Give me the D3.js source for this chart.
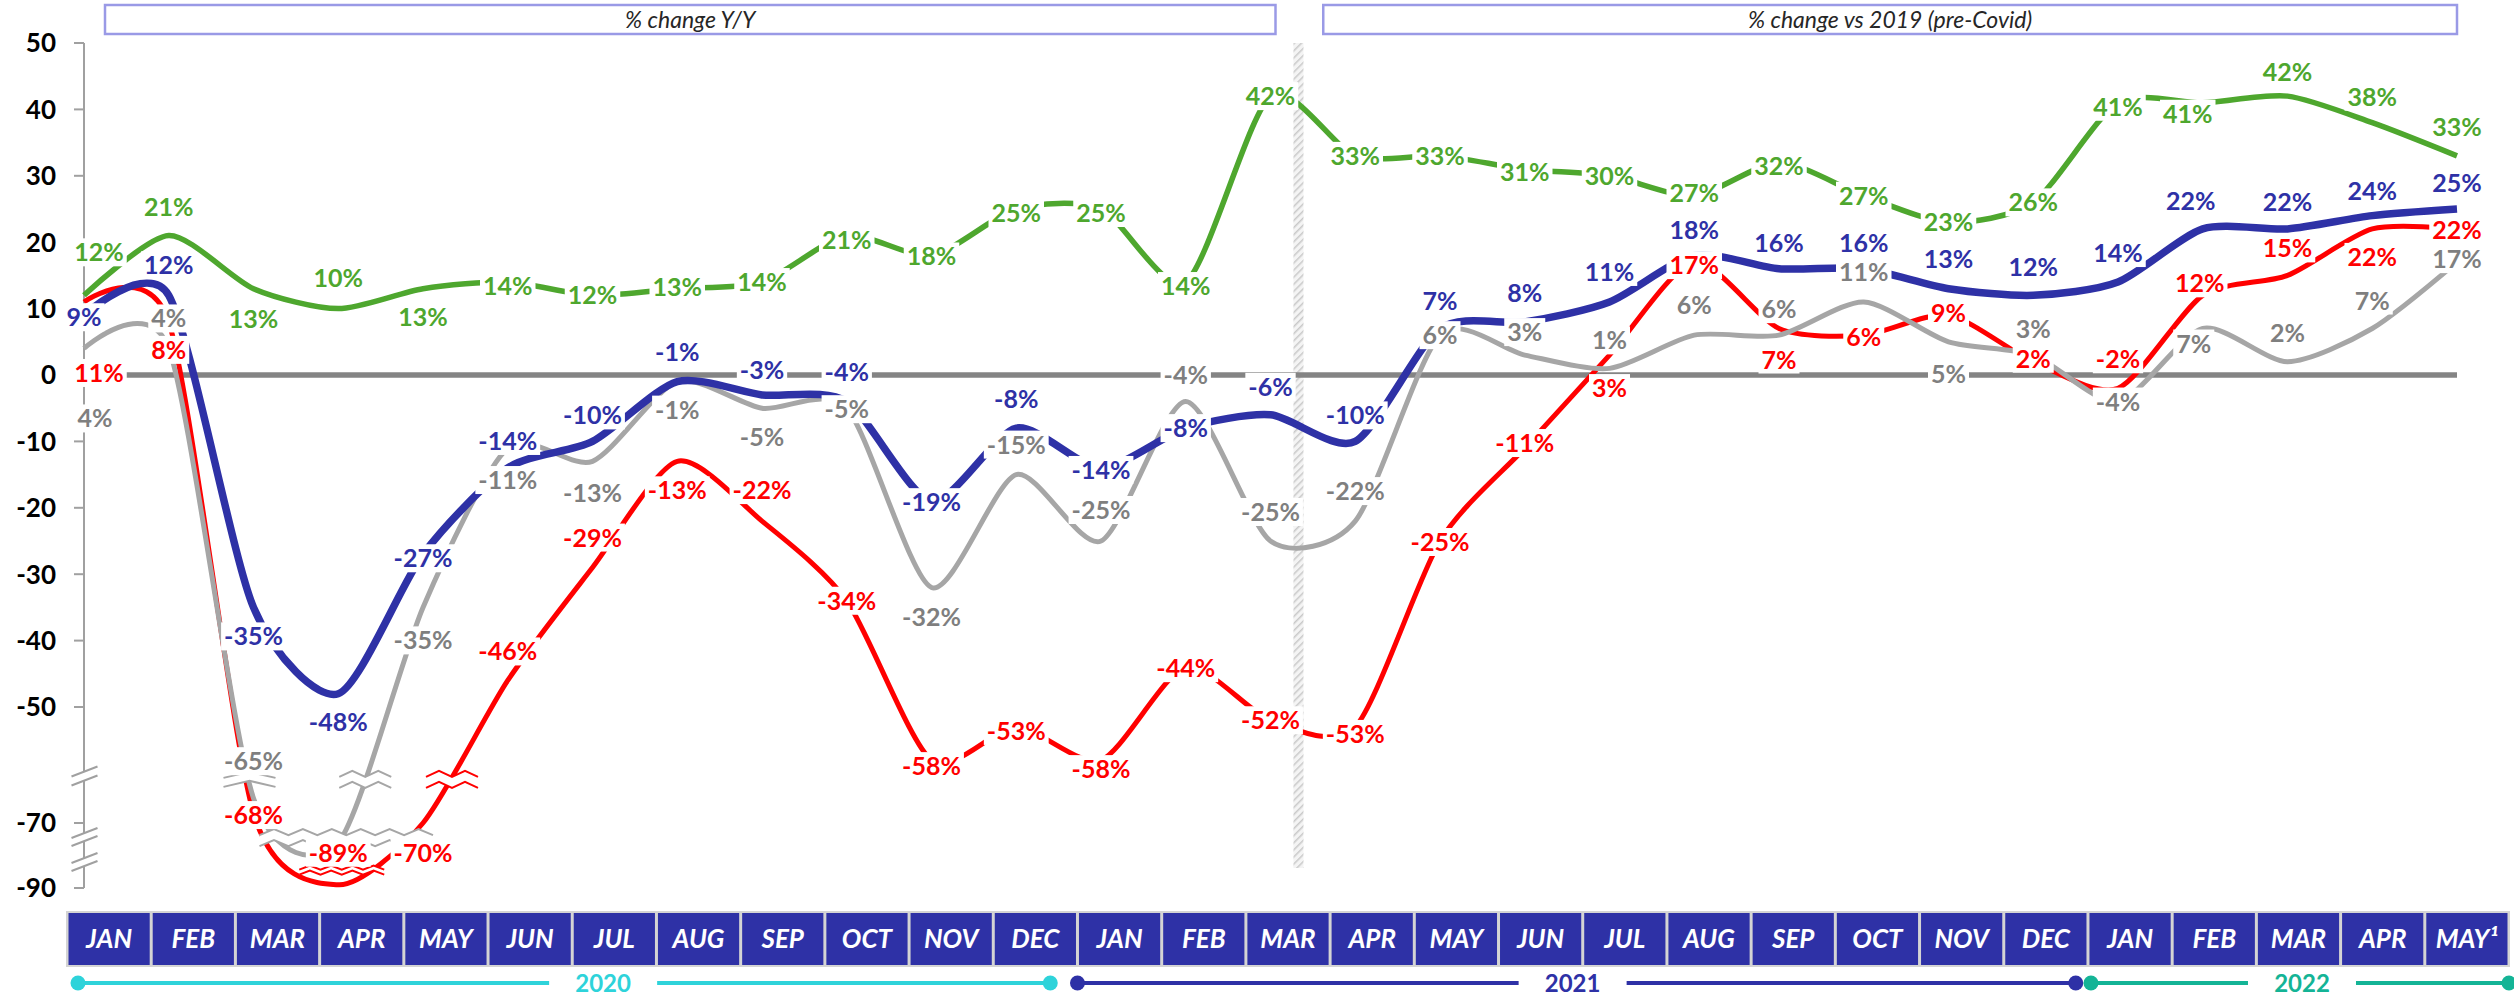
<!DOCTYPE html>
<html><head><meta charset="utf-8">
<script src="https://cdn.jsdelivr.net/npm/d3@7"></script>
<style>body{margin:0;background:#fff;} svg{display:block;}</style>
</head><body><svg id="chart" width="2514" height="999"></svg>
<script>
// ---------------- DATA ----------------
const months = ["JAN","FEB","MAR","APR","MAY","JUN","JUL","AUG","SEP","OCT","NOV","DEC",
                "JAN","FEB","MAR","APR","MAY","JUN","JUL","AUG","SEP","OCT","NOV","DEC",
                "JAN","FEB","MAR","APR","MAY¹"];
const years = ["2020","2021","2022"];
const yearSpans = [[0,11],[12,23],[24,28]];
const yTicks = [50,40,30,20,10,0,-10,-20,-30,-40,-50,-70,-90];
const panelTitles = ["% change Y/Y","% change vs 2019 (pre-Covid)"];

const green = [12,21,13,10,13,14,12,13,14,21,18,25,25,14,42,33,33,31,30,27,32,27,23,26,41,41,42,38,33];
const blue  = [9,12,-35,-48,-27,-14,-10,-1,-3,-4,-19,-8,-14,-8,-6,-10,7,8,11,18,16,16,13,12,14,22,22,24,25];
const red   = [11,8,-68,-89,-70,-46,-29,-13,-22,-34,-58,-53,-58,-44,-52,-53,-25,-11,3,17,7,6,9,2,-2,12,15,22,22];
const gray  = [4,4,-65,-76,-35,-11,-13,-1,-5,-5,-32,-15,-25,-4,-25,-22,6,3,1,6,6,11,5,3,-4,7,2,7,17];

// ---------------- LAYOUT (label placement, px offsets) ----------------
const greenLabelDy = [-43,-29,30,-31,28,4,0,-2,0,4,1,4,4,4,0,0,0,3,0,-3,3,0,0,0,4,11,-24,-26,-29];
const blueLabelDy  = [2,-30,29,28,4,-27,-26,-30,-25,-30,1,-29,2,0,-28,-26,-28,-29,-30,-25,-26,-26,-30,-28,-29,-28,-27,-25,-26];
const redLabelDy   = [71,28,2,-32,30,-29,-30,29,-31,0,6,4,9,1,0,7,1,-5,33,3,31,2,-2,-3,-29,-12,-27,28,1];
const grayLabelDy  = [70,-30,-37,null,33,32,32,28,29,1,30,-30,-31,-27,-29,-30,0,-23,-28,-30,-26,-30,32,-26,0,15,-29,-28,-3];
const labelDx = {green:{0:15,25:-15}, blue:{25:-12}, red:{0:15,25:-3}, gray:{0:11,25:-9}};

// ---------------- CHART ----------------
const svg = d3.select("#chart");
const FONT = "Lato, 'Open Sans', 'Liberation Sans', sans-serif";
const C = {green:"#4EA72E", blue:"#2E31A6", red:"#FF0000", grayLine:"#A6A6A6", grayText:"#7F7F7F",
           zero:"#848484", axis:"#A0A0A0", y2020:"#2ED3DA", y2021:"#2E31A6", y2022:"#14B496"};

const x = d3.scalePoint().domain(d3.range(months.length)).range([84, 2457]);
const y = d3.scaleLinear().domain([-90,-70,-60,50]).range([888,823,773.4,43]);
const xb = d3.scaleBand().domain(d3.range(months.length)).range([67, 2509]);

const defs = svg.append("defs");
const pat = defs.append("pattern").attr("id","hatch").attr("width",5).attr("height",5)
  .attr("patternUnits","userSpaceOnUse").attr("patternTransform","rotate(45)");
pat.append("rect").attr("width",5).attr("height",5).attr("fill","#f4f4f4");
pat.append("line").attr("x1",0).attr("y1",0).attr("x2",0).attr("y2",5).attr("stroke","#c9c9c9").attr("stroke-width",3);

// panel title boxes
const titleBoxes = [[x(0)+21, x(14)+5],[x(15)-32, x(28)]];
titleBoxes.forEach((b,i)=>{
  svg.append("rect").attr("x",b[0]).attr("y",5).attr("width",b[1]-b[0]).attr("height",29)
    .attr("fill","#fff").attr("stroke","#9A9AE6").attr("stroke-width",2.5);
  svg.append("text").attr("x",(b[0]+b[1])/2).attr("y",20).attr("dy","0.36em").attr("text-anchor","middle")
    .attr("font-family",FONT).attr("font-style","italic").attr("font-size",23).attr("fill","#262626")
    .text(panelTitles[i]);
});

// separator (hatched band)
const sepX = x(14) + (x(15)-x(14))*0.33;
svg.append("rect").attr("x",sepX-5).attr("y",y(50)).attr("width",10).attr("height",868-y(50))
  .attr("fill","url(#hatch)");

// y axis
const ax = svg.append("g");
ax.append("line").attr("x1",84).attr("x2",84).attr("y1",y(50)).attr("y2",y(-90))
  .attr("stroke",C.axis).attr("stroke-width",2);
yTicks.forEach(t=>{
  ax.append("line").attr("x1",74).attr("x2",84).attr("y1",y(t)).attr("y2",y(t))
    .attr("stroke",C.axis).attr("stroke-width",2);
  ax.append("text").attr("x",56).attr("y",y(t)).attr("dy","0.36em").attr("text-anchor","end")
    .attr("font-family",FONT).attr("font-weight","bold").attr("font-size",26).attr("fill","#000")
    .text(t);
});

// zero line
svg.append("line").attr("x1",84).attr("x2",x(28)).attr("y1",y(0)).attr("y2",y(0))
  .attr("stroke",C.zero).attr("stroke-width",5.5);

// series lines (Excel-like smoothed lines)
const line = d3.line().x((d,i)=>x(i)).y(d=>y(d)).curve(d3.curveCardinal.tension(0.25));
const seriesDefs = [
  {key:"red", data:red, color:C.red, text:C.red, width:5, dy:redLabelDy},
  {key:"gray", data:gray, color:C.grayLine, text:C.grayText, width:5, dy:grayLabelDy},
  {key:"blue", data:blue, color:C.blue, text:C.blue, width:7.5, dy:blueLabelDy},
  {key:"green", data:green, color:C.green, text:C.green, width:5.5, dy:greenLabelDy}
];
seriesDefs.forEach(s=>{
  svg.append("path").datum(s.data).attr("d",line).attr("fill","none")
    .attr("stroke",s.color).attr("stroke-width",s.width).attr("stroke-linecap","butt");
});

// axis-break marks
const brk = svg.append("g");
function slantPair(cx, cy, gap){
  const p = [[cx-13,cy+5],[cx+13,cy-5]];
  brk.append("path").attr("d",`M${p[0][0]},${p[0][1]-gap/2}L${p[1][0]},${p[1][1]-gap/2}L${p[1][0]},${p[1][1]+gap/2}L${p[0][0]},${p[0][1]+gap/2}Z`)
    .attr("fill","#fff");
  [-gap/2, gap/2].forEach(o=>brk.append("line").attr("x1",p[0][0]).attr("y1",p[0][1]+o)
    .attr("x2",p[1][0]).attr("y2",p[1][1]+o).attr("stroke",C.axis).attr("stroke-width",2));
}
slantPair(84.5, 776, 9); slantPair(84.5, 837, 8); slantPair(84.5, 862, 8);
function zigPair(x1, x2, cy, teeth, amp, gap, color){
  const pts = d3.range(teeth*2+1).map(k=>[x1+(x2-x1)*k/(teeth*2), cy+(k%2? -amp: amp)]);
  const top = pts.map(p=>[p[0],p[1]-gap/2]), bot = pts.map(p=>[p[0],p[1]+gap/2]);
  brk.append("path").attr("d", d3.line()(top.concat(bot.slice().reverse()))+"Z").attr("fill","#fff");
  [top,bot].forEach(ps=>brk.append("path").attr("d",d3.line()(ps)).attr("fill","none")
    .attr("stroke",color).attr("stroke-width",2));
}
zigPair(x(2)-30, x(2)+22, y(-61.2), 1, 3, 9, C.grayLine);
zigPair(x(3)+1, x(3)+53, y(-61.2), 2, 3, 11, C.grayLine);
zigPair(x(4)+3, x(4)+55, y(-61.2), 2, 3, 11, C.red);
zigPair(x(2)+6, x(4)+10, y(-74.5), 6, 3, 11, C.grayLine);
zigPair(x(3)-39, x(3)+46, y(-84.5), 4, 2, 5, C.red);

// data labels with white backgrounds
const bgG = svg.append("g"), txG = svg.append("g");
seriesDefs.forEach(s=>{
  s.data.forEach((v,i)=>{
    const dy = s.dy[i];
    if (dy === null || dy === undefined) return;
    const dx = labelDx[s.key][i] || 0;
    const cx = x(i)+dx, cy = y(v)+dy;
    const t = txG.append("text").attr("x",cx).attr("y",cy).attr("dy","0.36em")
      .attr("text-anchor","middle").attr("font-family",FONT).attr("font-weight","bold")
      .attr("font-size",25).attr("fill",s.text).text(v+"%");
    const bb = t.node().getBBox();
    bgG.append("rect").attr("x",bb.x-3).attr("y",cy-14).attr("width",bb.width+6).attr("height",28)
      .attr("fill","#fff");
  });
});

// month boxes
const mb = svg.append("g");
mb.append("rect").attr("x",66).attr("y",911).attr("width",2510-66).attr("height",56).attr("fill","#D4D4D4");
months.forEach((m,i)=>{
  mb.append("rect").attr("x",xb(i)+1.5).attr("y",913).attr("width",xb.bandwidth()-3).attr("height",52)
    .attr("fill","#2E31A6");
  mb.append("text").attr("x",xb(i)+xb.bandwidth()/2).attr("y",939).attr("dy","0.36em")
    .attr("text-anchor","middle").attr("font-family",FONT).attr("font-weight","bold")
    .attr("font-style","italic").attr("font-size",26).attr("fill","#fff").text(m);
});

// year timeline
const yearCols = [C.y2020, C.y2021, C.y2022];
const yearStartOff = [11, 0, 3], yearEndOff = [57, 72, xb.bandwidth()], yearTextShift = [39,-4,2];
const ty = 983;
yearSpans.forEach((sp,k)=>{
  const x1 = xb(sp[0])+yearStartOff[k], x2 = xb(sp[1])+yearEndOff[k];
  const tx = (x1+x2)/2 + yearTextShift[k];
  svg.append("line").attr("x1",x1).attr("x2",x2).attr("y1",ty).attr("y2",ty)
    .attr("stroke",yearCols[k]).attr("stroke-width",4);
  [x1,x2].forEach(xx=>svg.append("circle").attr("cx",xx).attr("cy",ty).attr("r",7.5).attr("fill",yearCols[k]));
  svg.append("rect").attr("x",tx-54).attr("y",ty-12).attr("width",108).attr("height",24).attr("fill","#fff");
  svg.append("text").attr("x",tx).attr("y",ty).attr("dy","0.36em").attr("text-anchor","middle")
    .attr("font-family",FONT).attr("font-weight","bold").attr("font-size",24)
    .attr("fill",yearCols[k]).text(years[k]);
});
</script></body></html>
